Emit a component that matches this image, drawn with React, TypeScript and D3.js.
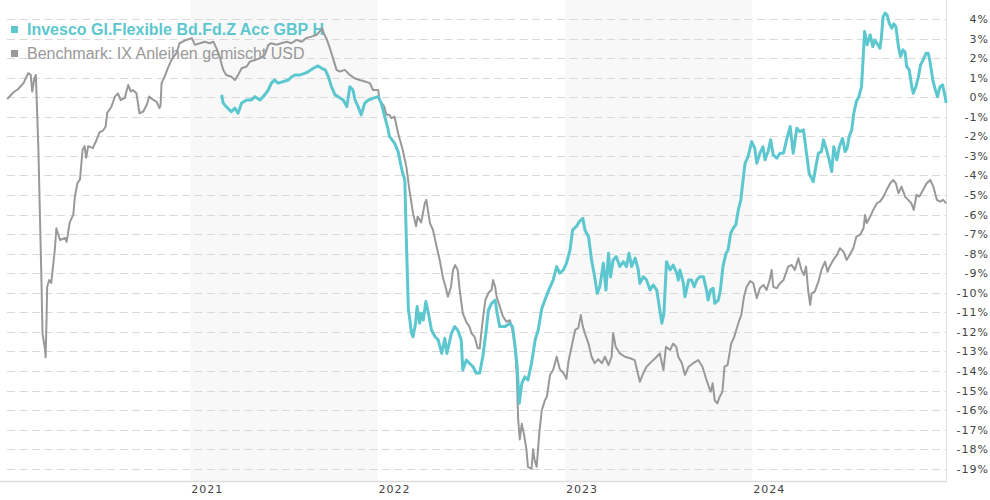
import * as d3 from "d3";

// --- data (percent change) ---
const FUND_NAME = "Invesco Gl.Flexible Bd.Fd.Z Acc GBP H";
const BENCH_NAME = "Benchmark: IX Anleihen gemischt USD";

const yTicks = [4, 3, 2, 1, 0, -1, -2, -3, -4, -5, -6, -7, -8, -9, -10, -11, -12, -13, -14, -15, -16, -17, -18, -19];
const yearTicks = ["2021", "2022", "2023", "2024"];
const shadedYears = ["2021", "2023"];

const benchmark: [string, number][] = [
  ["2020-01-10", -0.1], ["2020-01-22", 0.24], ["2020-01-31", 0.41], ["2020-02-11", 0.72], ["2020-02-20", 1.23],
  ["2020-02-25", 1.14], ["2020-02-28", 0.29], ["2020-03-03", 0.97], ["2020-03-06", 1.14], ["2020-03-11", -2.7],
  ["2020-03-14", -6.1], ["2020-03-17", -9.5], ["2020-03-19", -12.1], ["2020-03-24", -12.9], ["2020-03-25", -13.3],
  ["2020-03-27", -11.2], ["2020-03-28", -9.7], ["2020-04-01", -9.35], ["2020-04-05", -9.5], ["2020-04-12", -7.8],
  ["2020-04-15", -6.7], ["2020-04-22", -7.3], ["2020-05-02", -7.2], ["2020-05-05", -7.4], ["2020-05-11", -6.4],
  ["2020-05-18", -6.0], ["2020-05-21", -5.1], ["2020-05-26", -4.4], ["2020-05-31", -4.2], ["2020-06-05", -2.7],
  ["2020-06-09", -2.5], ["2020-06-12", -3.1], ["2020-06-16", -2.5], ["2020-06-25", -2.6], ["2020-07-02", -2.2],
  ["2020-07-08", -1.8], ["2020-07-15", -1.7], ["2020-07-20", -1.5], ["2020-07-23", -0.8], ["2020-07-31", -0.5],
  ["2020-08-07", 0.03], ["2020-08-13", 0.2], ["2020-08-18", -0.14], ["2020-08-26", -0.05], ["2020-09-02", 0.63],
  ["2020-09-07", 0.29], ["2020-09-11", 0.37], ["2020-09-18", 0.2], ["2020-09-24", -0.82], ["2020-10-01", -0.74],
  ["2020-10-08", -0.4], ["2020-10-13", 0.03], ["2020-10-21", -0.14], ["2020-10-27", -0.22], ["2020-11-02", -0.56],
  ["2020-11-04", -0.4], ["2020-11-06", 0.72], ["2020-11-12", 1.05], ["2020-11-18", 1.48], ["2020-11-25", 1.9],
  ["2020-12-02", 2.16], ["2020-12-05", 2.25], ["2020-12-11", 2.76], ["2020-12-24", 2.93], ["2021-01-04", 3.02],
  ["2021-01-10", 2.68], ["2021-01-20", 2.76], ["2021-01-29", 2.84], ["2021-02-08", 2.76], ["2021-02-15", 2.84],
  ["2021-02-21", 2.5], ["2021-02-27", 2.08], ["2021-03-06", 1.4], ["2021-03-12", 1.14], ["2021-03-22", 1.05],
  ["2021-03-29", 0.88], ["2021-04-04", 1.14], ["2021-04-11", 1.48], ["2021-04-21", 1.57], ["2021-04-27", 1.82],
  ["2021-05-07", 1.9], ["2021-05-17", 2.0], ["2021-05-26", 2.16], ["2021-06-02", 2.68], ["2021-06-08", 2.76],
  ["2021-06-18", 2.68], ["2021-06-27", 2.76], ["2021-07-08", 2.84], ["2021-07-17", 2.76], ["2021-07-27", 2.93],
  ["2021-08-06", 2.84], ["2021-08-15", 3.02], ["2021-08-25", 3.1], ["2021-09-04", 3.19], ["2021-09-10", 3.36],
  ["2021-09-15", 3.53], ["2021-09-18", 3.27], ["2021-09-23", 3.02], ["2021-09-29", 2.59], ["2021-10-06", 2.0],
  ["2021-10-13", 1.4], ["2021-10-19", 1.31], ["2021-10-29", 1.4], ["2021-11-08", 1.14], ["2021-11-17", 0.97],
  ["2021-11-27", 0.88], ["2021-12-07", 0.8], ["2021-12-17", 0.72], ["2021-12-23", 0.37], ["2022-01-02", 0.37],
  ["2022-01-05", -0.14], ["2022-01-14", -0.48], ["2022-01-18", -0.9], ["2022-01-24", -0.9], ["2022-01-28", -1.07],
  ["2022-02-03", -1.0], ["2022-02-10", -1.84], ["2022-02-19", -2.7], ["2022-02-26", -3.55], ["2022-03-04", -4.74],
  ["2022-03-11", -5.93], ["2022-03-17", -6.6], ["2022-03-20", -6.1], ["2022-03-27", -6.4], ["2022-04-03", -5.42],
  ["2022-04-06", -5.25], ["2022-04-13", -6.44], ["2022-04-19", -6.79], ["2022-04-26", -7.64], ["2022-05-02", -8.32],
  ["2022-05-08", -9.18], ["2022-05-15", -9.86], ["2022-05-18", -10.2], ["2022-05-24", -9.69], ["2022-05-28", -8.83],
  ["2022-06-01", -8.58], ["2022-06-06", -8.83], ["2022-06-10", -9.86], ["2022-06-16", -11.05], ["2022-06-23", -11.5],
  ["2022-06-29", -11.73], ["2022-07-03", -12.07], ["2022-07-09", -12.25], ["2022-07-15", -12.84], ["2022-07-19", -12.84],
  ["2022-07-22", -12.07], ["2022-07-25", -11.39], ["2022-07-30", -10.37], ["2022-08-05", -10.0], ["2022-08-11", -9.86],
  ["2022-08-14", -9.35], ["2022-08-18", -9.69], ["2022-08-21", -10.2], ["2022-08-27", -10.7], ["2022-09-02", -11.2],
  ["2022-09-09", -11.48], ["2022-09-16", -11.4], ["2022-09-22", -12.07], ["2022-09-26", -12.9], ["2022-09-29", -14.1],
  ["2022-10-02", -16.5], ["2022-10-05", -17.5], ["2022-10-09", -16.7], ["2022-10-13", -17.2], ["2022-10-18", -18.0],
  ["2022-10-21", -18.9], ["2022-10-28", -19.0], ["2022-10-31", -18.0], ["2022-11-03", -18.55], ["2022-11-07", -18.9],
  ["2022-11-12", -17.2], ["2022-11-17", -16.0], ["2022-11-23", -15.5], ["2022-11-27", -15.3], ["2022-12-03", -14.2],
  ["2022-12-09", -13.95], ["2022-12-16", -13.27], ["2022-12-22", -13.9], ["2022-12-29", -14.1], ["2023-01-04", -14.4],
  ["2023-01-08", -13.5], ["2023-01-14", -12.76], ["2023-01-21", -11.9], ["2023-01-27", -11.8], ["2023-02-01", -11.14],
  ["2023-02-05", -11.73], ["2023-02-09", -12.07], ["2023-02-16", -12.6], ["2023-02-22", -13.27], ["2023-02-28", -13.6],
  ["2023-03-07", -13.4], ["2023-03-14", -13.6], ["2023-03-20", -13.27], ["2023-03-27", -13.7], ["2023-04-02", -13.27],
  ["2023-04-05", -12.07], ["2023-04-10", -12.76], ["2023-04-18", -13.1], ["2023-04-28", -13.27], ["2023-05-08", -13.35],
  ["2023-05-17", -13.44], ["2023-05-27", -14.55], ["2023-06-03", -14.1], ["2023-06-09", -13.78], ["2023-06-19", -13.52],
  ["2023-06-29", -13.27], ["2023-07-05", -13.1], ["2023-07-12", -13.95], ["2023-07-17", -12.76], ["2023-07-25", -12.93],
  ["2023-07-31", -12.6], ["2023-08-06", -12.76], ["2023-08-10", -13.27], ["2023-08-17", -13.6], ["2023-08-23", -14.2],
  ["2023-08-30", -13.78], ["2023-09-08", -13.6], ["2023-09-18", -13.44], ["2023-09-26", -13.78], ["2023-10-04", -14.46],
  ["2023-10-12", -15.06], ["2023-10-16", -14.63], ["2023-10-20", -15.5], ["2023-10-25", -15.65], ["2023-10-30", -15.3],
  ["2023-11-04", -15.06], ["2023-11-08", -13.78], ["2023-11-14", -13.7], ["2023-11-21", -12.6], ["2023-11-27", -12.25],
  ["2023-12-05", -11.56], ["2023-12-11", -11.1], ["2023-12-16", -10.2], ["2023-12-21", -9.7], ["2023-12-28", -9.4],
  ["2024-01-03", -9.5], ["2024-01-10", -10.28], ["2024-01-16", -9.77], ["2024-01-23", -9.6], ["2024-01-29", -9.86],
  ["2024-02-04", -9.35], ["2024-02-08", -8.83], ["2024-02-11", -9.69], ["2024-02-18", -9.77], ["2024-02-24", -9.52],
  ["2024-03-02", -9.35], ["2024-03-11", -8.66], ["2024-03-18", -8.58], ["2024-03-24", -8.83], ["2024-03-31", -8.23],
  ["2024-04-06", -8.83], ["2024-04-11", -9.09], ["2024-04-15", -8.66], ["2024-04-19", -9.86], ["2024-04-23", -10.62],
  ["2024-04-26", -10.03], ["2024-05-02", -9.94], ["2024-05-09", -9.43], ["2024-05-15", -8.83], ["2024-05-22", -8.41],
  ["2024-05-27", -8.92], ["2024-05-31", -8.66], ["2024-06-07", -8.32], ["2024-06-14", -8.07], ["2024-06-20", -7.72],
  ["2024-06-27", -7.9], ["2024-07-03", -8.32], ["2024-07-09", -8.07], ["2024-07-16", -7.72], ["2024-07-22", -7.13],
  ["2024-07-29", -7.04], ["2024-08-05", -6.7], ["2024-08-08", -6.02], ["2024-08-11", -6.44], ["2024-08-18", -6.1],
  ["2024-08-24", -5.76], ["2024-08-31", -5.42], ["2024-09-06", -5.34], ["2024-09-13", -5.08], ["2024-09-19", -4.74],
  ["2024-09-26", -4.4], ["2024-10-02", -4.23], ["2024-10-07", -4.4], ["2024-10-12", -4.91], ["2024-10-18", -4.57],
  ["2024-10-25", -5.08], ["2024-10-31", -5.25], ["2024-11-06", -5.42], ["2024-11-11", -5.76], ["2024-11-16", -5.0],
  ["2024-11-22", -5.08], ["2024-11-29", -4.74], ["2024-12-06", -4.4], ["2024-12-13", -4.23], ["2024-12-19", -4.57],
  ["2024-12-26", -5.25], ["2025-01-01", -5.34], ["2025-01-07", -5.25], ["2025-01-13", -5.42],
];

const fund: [string, number][] = [
  ["2021-03-03", 0.12], ["2021-03-06", -0.3], ["2021-03-12", -0.48], ["2021-03-22", -0.74], ["2021-03-29", -0.56],
  ["2021-04-04", -0.82], ["2021-04-11", -0.3], ["2021-04-21", -0.14], ["2021-04-30", -0.14], ["2021-05-07", 0.03],
  ["2021-05-17", -0.14], ["2021-05-26", 0.12], ["2021-06-02", 0.37], ["2021-06-08", 0.72], ["2021-06-14", 0.88],
  ["2021-06-21", 0.72], ["2021-07-01", 0.8], ["2021-07-11", 0.88], ["2021-07-18", 1.05], ["2021-07-24", 1.14],
  ["2021-08-03", 1.14], ["2021-08-13", 1.23], ["2021-08-19", 1.31], ["2021-08-29", 1.48], ["2021-09-07", 1.6],
  ["2021-09-14", 1.48], ["2021-09-21", 1.4], ["2021-09-27", 1.05], ["2021-10-03", 0.54], ["2021-10-10", 0.12],
  ["2021-10-16", 0.03], ["2021-10-26", -0.14], ["2021-11-02", -0.48], ["2021-11-08", 0.54], ["2021-11-14", 0.37],
  ["2021-11-18", -0.14], ["2021-11-24", -0.48], ["2021-11-30", -0.9], ["2021-12-07", -0.3], ["2021-12-14", -0.14],
  ["2021-12-24", -0.05], ["2022-01-02", 0.03], ["2022-01-08", -0.3], ["2022-01-14", -0.9], ["2022-01-21", -1.59],
  ["2022-01-24", -2.0], ["2022-02-03", -2.35], ["2022-02-10", -2.78], ["2022-02-16", -3.55], ["2022-02-19", -3.89],
  ["2022-02-23", -4.23], ["2022-02-26", -7.3], ["2022-03-02", -10.88], ["2022-03-04", -11.2], ["2022-03-08", -12.07],
  ["2022-03-11", -12.25], ["2022-03-16", -11.56], ["2022-03-19", -10.7], ["2022-03-24", -11.56], ["2022-03-27", -11.05],
  ["2022-03-31", -11.39], ["2022-04-05", -10.45], ["2022-04-10", -11.05], ["2022-04-16", -11.9], ["2022-04-23", -12.25],
  ["2022-04-29", -12.41], ["2022-05-06", -13.1], ["2022-05-12", -12.33], ["2022-05-16", -13.1], ["2022-05-19", -12.76],
  ["2022-05-25", -12.07], ["2022-05-31", -11.73], ["2022-06-06", -11.9], ["2022-06-13", -12.41], ["2022-06-16", -13.95],
  ["2022-06-23", -13.44], ["2022-06-29", -13.6], ["2022-07-06", -13.78], ["2022-07-12", -14.1], ["2022-07-19", -14.1],
  ["2022-07-25", -13.27], ["2022-07-31", -12.07], ["2022-08-05", -10.88], ["2022-08-11", -10.54], ["2022-08-18", -10.37],
  ["2022-08-22", -11.05], ["2022-08-27", -11.73], ["2022-09-06", -11.73], ["2022-09-16", -11.56], ["2022-09-21", -11.73],
  ["2022-09-26", -12.76], ["2022-09-30", -13.78], ["2022-10-04", -15.65], ["2022-10-09", -14.63], ["2022-10-15", -14.3],
  ["2022-10-21", -14.46], ["2022-10-28", -13.6], ["2022-11-04", -12.41], ["2022-11-10", -11.9], ["2022-11-17", -10.8],
  ["2022-11-23", -10.37], ["2022-11-30", -9.9], ["2022-12-09", -9.35], ["2022-12-16", -8.66], ["2022-12-22", -9.0],
  ["2022-12-29", -8.83], ["2023-01-04", -8.49], ["2023-01-11", -7.81], ["2023-01-16", -6.79], ["2023-01-23", -6.62],
  ["2023-01-29", -6.36], ["2023-02-05", -6.19], ["2023-02-09", -6.79], ["2023-02-16", -7.13], ["2023-02-22", -8.32],
  ["2023-02-28", -9.18], ["2023-03-05", -10.03], ["2023-03-10", -9.69], ["2023-03-17", -8.49], ["2023-03-22", -9.86],
  ["2023-03-27", -7.98], ["2023-03-31", -9.18], ["2023-04-05", -8.32], ["2023-04-11", -8.15], ["2023-04-18", -8.66],
  ["2023-04-25", -8.41], ["2023-05-01", -8.66], ["2023-05-06", -7.98], ["2023-05-11", -8.66], ["2023-05-18", -8.23],
  ["2023-05-24", -8.83], ["2023-05-27", -9.52], ["2023-06-03", -9.18], ["2023-06-09", -9.35], ["2023-06-16", -9.86],
  ["2023-06-22", -9.6], ["2023-06-29", -9.86], ["2023-07-04", -10.71], ["2023-07-09", -11.56], ["2023-07-13", -11.05],
  ["2023-07-18", -8.41], ["2023-07-25", -8.83], ["2023-07-31", -8.58], ["2023-08-07", -9.0], ["2023-08-10", -9.35],
  ["2023-08-13", -8.83], ["2023-08-20", -9.52], ["2023-08-23", -10.2], ["2023-08-30", -9.35], ["2023-09-05", -9.35],
  ["2023-09-10", -9.69], ["2023-09-15", -9.35], ["2023-09-21", -9.18], ["2023-09-28", -9.18], ["2023-10-04", -9.86],
  ["2023-10-07", -10.37], ["2023-10-12", -9.86], ["2023-10-17", -9.77], ["2023-10-20", -10.54], ["2023-10-27", -10.37],
  ["2023-10-31", -9.86], ["2023-11-05", -8.66], ["2023-11-11", -7.98], ["2023-11-15", -7.81], ["2023-11-20", -6.96],
  ["2023-11-25", -6.7], ["2023-11-30", -6.53], ["2023-12-05", -5.76], ["2023-12-10", -5.25], ["2023-12-12", -4.74],
  ["2023-12-18", -3.38], ["2023-12-24", -3.04], ["2023-12-31", -2.27], ["2024-01-06", -2.61], ["2024-01-10", -3.38],
  ["2024-01-16", -2.86], ["2024-01-22", -2.53], ["2024-01-26", -3.2], ["2024-02-01", -2.78], ["2024-02-06", -2.18],
  ["2024-02-11", -2.95], ["2024-02-18", -3.12], ["2024-02-24", -2.86], ["2024-03-02", -2.86], ["2024-03-08", -2.18],
  ["2024-03-15", -1.5], ["2024-03-21", -2.86], ["2024-03-28", -1.59], ["2024-04-03", -1.76], ["2024-04-10", -1.67],
  ["2024-04-15", -2.7], ["2024-04-21", -3.89], ["2024-04-29", -4.32], ["2024-05-04", -3.55], ["2024-05-09", -2.86],
  ["2024-05-15", -2.78], ["2024-05-19", -2.18], ["2024-05-25", -2.7], ["2024-05-30", -3.2], ["2024-06-04", -3.8],
  ["2024-06-08", -2.53], ["2024-06-14", -3.2], ["2024-06-19", -2.53], ["2024-06-25", -2.1], ["2024-06-30", -2.78],
  ["2024-07-04", -2.61], ["2024-07-08", -2.01], ["2024-07-13", -1.67], ["2024-07-17", -0.82], ["2024-07-22", -0.22],
  ["2024-07-27", 0.03], ["2024-08-01", 0.54], ["2024-08-04", 1.9], ["2024-08-07", 3.36], ["2024-08-12", 2.68],
  ["2024-08-18", 3.19], ["2024-08-23", 2.59], ["2024-08-27", 2.93], ["2024-08-31", 2.76], ["2024-09-06", 2.5],
  ["2024-09-09", 3.1], ["2024-09-12", 4.12], ["2024-09-16", 4.3], ["2024-09-20", 4.2], ["2024-09-24", 3.79],
  ["2024-09-29", 3.53], ["2024-10-03", 3.75], ["2024-10-07", 3.61], ["2024-10-12", 2.59], ["2024-10-16", 2.08],
  ["2024-10-21", 2.42], ["2024-10-25", 2.3], ["2024-10-28", 1.57], ["2024-11-02", 1.4], ["2024-11-07", 0.54],
  ["2024-11-10", 0.2], ["2024-11-15", 0.54], ["2024-11-20", 1.05], ["2024-11-24", 1.65], ["2024-11-29", 1.9],
  ["2024-12-05", 2.25], ["2024-12-09", 2.25], ["2024-12-12", 1.9], ["2024-12-18", 0.88], ["2024-12-22", 0.46],
  ["2024-12-27", 0.03], ["2025-01-01", 0.54], ["2025-01-06", 0.63], ["2025-01-11", 0.03], ["2025-01-13", -0.3],
];

// --- layout ---
const width = 990;
const height = 500;
const plotRight = 946;
const plotBottom = 481;
const fundColor = "#5cc7cf";
const benchColor = "#999999";

const parse = d3.timeParse("%Y-%m-%d");

export default function App() {
  const x = d3.scaleTime()
    .domain([new Date(2020, 0, 1), new Date(2025, 0, 1)])
    .range([2.5, 940]);

  const y = d3.scaleLinear()
    .domain([-19, 4])
    .range([468.8, 19]);

  const line = d3.line<[string, number]>()
    .x(d => x(parse(d[0]) as Date))
    .y(d => y(d[1]));

  const labelFont = "'DejaVu Sans', Verdana, sans-serif";
  const legendFont = "'Liberation Sans', Arial, sans-serif";

  return (
    <svg
      width={width}
      height={height}
      style={{ position: "absolute", left: 0, top: 0, background: "#fff" }}
    >
      {/* alternating year bands */}
      {shadedYears.map(yr => {
        const x0 = x(new Date(+yr, 0, 1));
        const x1 = x(new Date(+yr + 1, 0, 1));
        return <rect key={yr} x={x0} y={0} width={x1 - x0} height={plotBottom} fill="#f8f8f8" />;
      })}

      {/* dashed grid */}
      {yTicks.map(t => (
        <line
          key={t}
          x1={7}
          x2={plotRight}
          y1={Math.round(y(t)) + 0.5}
          y2={Math.round(y(t)) + 0.5}
          stroke="#d9d9d9"
          strokeWidth={1}
          strokeDasharray="8,4.5"
        />
      ))}

      {/* axis frame */}
      <line x1={0} x2={plotRight + 1} y1={plotBottom + 0.5} y2={plotBottom + 0.5} stroke="#dddddd" strokeWidth={1.5} />
      <line x1={plotRight + 0.5} x2={plotRight + 0.5} y1={0} y2={plotBottom + 1} stroke="#e2e2e2" strokeWidth={1} />

      {/* y labels on the right */}
      {yTicks.map(t => (
        <text
          key={t}
          x={989}
          y={y(t) + 1}
          textAnchor="end"
          dominantBaseline="middle"
          fontFamily={labelFont}
          fontSize={11}
          letterSpacing={1}
          fill="#444"
        >
          {`${t}%`}
        </text>
      ))}

      {/* year labels */}
      {yearTicks.map(yr => (
        <text
          key={yr}
          x={x(new Date(+yr, 0, 1)) + 1}
          y={493}
          fontFamily={labelFont}
          fontSize={11}
          letterSpacing={1}
          fill="#444"
        >
          {yr}
        </text>
      ))}

      {/* legend */}
      <rect x={11} y={26} width={7} height={7} fill={fundColor} />
      <text x={27} y={34.5} fontFamily={legendFont} fontSize={16} fontWeight="bold" fill={fundColor}>
        {FUND_NAME}
      </text>
      <rect x={11} y={50} width={7} height={7} fill={benchColor} />
      <text x={27} y={58.5} fontFamily={legendFont} fontSize={16} fill={benchColor}>
        {BENCH_NAME}
      </text>

      {/* series */}
      <path d={line(benchmark) ?? ""} fill="none" stroke={benchColor} strokeWidth={2} strokeLinejoin="round" />
      <path d={line(fund) ?? ""} fill="none" stroke={fundColor} strokeWidth={3} strokeLinejoin="round" />
    </svg>
  );
}
